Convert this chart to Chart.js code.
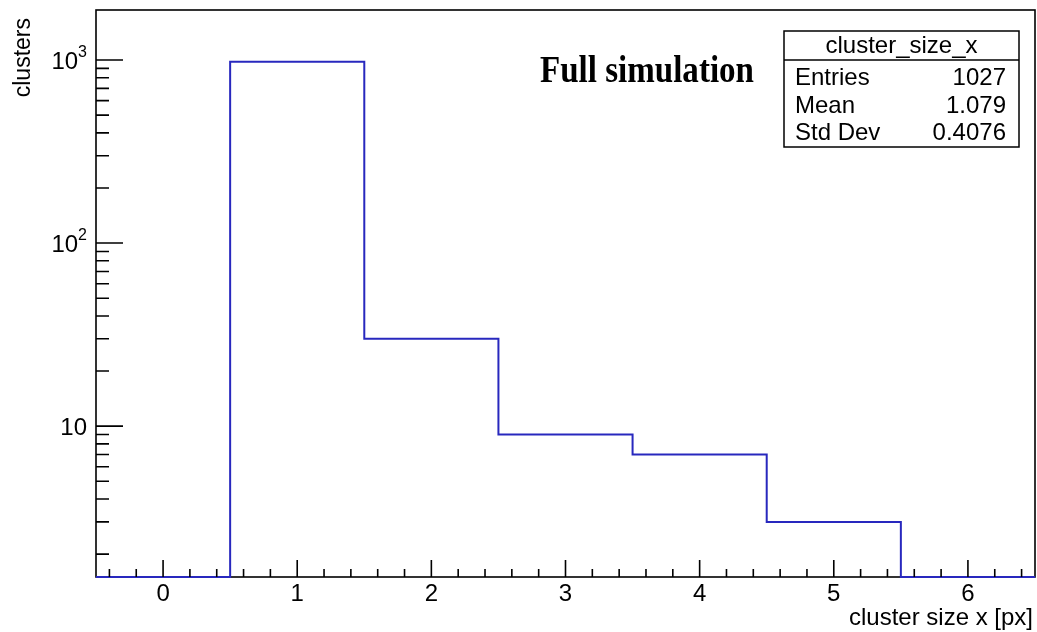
<!DOCTYPE html>
<html>
<head>
<meta charset="utf-8">
<script src="https://cdn.jsdelivr.net/npm/chart.js@4.4.1/dist/chart.umd.min.js"></script>
<style>
  html, body { margin: 0; padding: 0; background: #fff; }
  canvas { display: block; }
</style>
</head>
<body>
<canvas id="c" width="1037" height="632"></canvas>
<script>
// Histogram contents: one count per unit-wide bin
const binCenters = [0, 1, 2, 3, 4, 5, 6];
const counts = [0, 978, 30, 9, 7, 3, 0];

// Axis ticks and labels
const xTickValues = [0, 1, 2, 3, 4, 5, 6];
const yTickValues = [10, 100, 1000];
const yTickBase = ['10', '10', '10'];
const yTickExp = ['', '2', '3'];

const histName = 'cluster_size_x';
const xTitle = 'cluster size x [px]';
const yTitle = 'clusters';
const tagText = 'Full simulation';

const X_MIN = -0.5, X_MAX = 6.5;
const Y_MIN = 1.5, Y_MAX = 1875;
const BIN_WIDTH = 1;

// Step outline: each bin's low edge carries its count, closed at the last high edge.
// Empty bins sit on the bottom of the log axis.
const stepPoints = binCenters.map((c, i) => ({ x: c - BIN_WIDTH / 2, y: Math.max(counts[i], Y_MIN) }));
stepPoints.push({
  x: binCenters[binCenters.length - 1] + BIN_WIDTH / 2,
  y: Math.max(counts[counts.length - 1], Y_MIN)
});

// Statistics box values
const entries = counts.reduce((s, v) => s + v, 0);
const mean = counts.reduce((s, v, i) => s + v * binCenters[i], 0) / entries;
const meanSq = counts.reduce((s, v, i) => s + v * binCenters[i] * binCenters[i], 0) / entries;
const stdDev = Math.sqrt(meanSq - mean * mean);
const statsRows = [
  ['Entries', String(entries)],
  ['Mean', mean.toPrecision(4)],
  ['Std Dev', stdDev.toPrecision(4)]
];

const SANS = '"Liberation Sans", Arial, Helvetica, sans-serif';

const frameAndAxes = {
  id: 'frameAndAxes',
  beforeDatasetsDraw(chart) {
    const { ctx, chartArea: a } = chart;
    ctx.save();
    ctx.strokeStyle = '#000';
    ctx.lineWidth = 1.6;
    ctx.strokeRect(a.left, a.top, a.right - a.left, a.bottom - a.top);
    ctx.restore();
  },
  afterDatasetsDraw(chart) {
    const { ctx, chartArea: a, scales: { x, y } } = chart;
    ctx.save();
    ctx.strokeStyle = '#000';
    ctx.lineWidth = 1.6;
    ctx.beginPath();
    // x axis: major ticks at integers, minor every 0.2
    for (let k = Math.ceil(X_MIN * 5); k <= Math.floor(X_MAX * 5); k++) {
      const v = k / 5;
      const px = x.getPixelForValue(v);
      const len = (k % 5 === 0) ? 17 : 8;
      ctx.moveTo(px, a.bottom);
      ctx.lineTo(px, a.bottom - len);
    }
    // y axis: decades major, 2..9 minor
    for (let d = 1; d <= 1000; d *= 10) {
      for (let m = 1; m <= 9; m++) {
        const v = m * d;
        if (v < Y_MIN || v > Y_MAX) continue;
        const py = y.getPixelForValue(v);
        const len = (m === 1) ? 27 : 13;
        ctx.moveTo(a.left, py);
        ctx.lineTo(a.left + len, py);
      }
    }
    ctx.stroke();
    ctx.restore();
  },
  afterDraw(chart) {
    const { ctx, chartArea: a, scales: { x, y } } = chart;
    ctx.save();
    ctx.fillStyle = '#000';

    // x tick labels
    ctx.font = '24px ' + SANS;
    ctx.textAlign = 'center';
    ctx.textBaseline = 'alphabetic';
    xTickValues.forEach(v => {
      ctx.fillText(String(v), x.getPixelForValue(v), a.bottom + 24);
    });

    // y tick labels with exponents
    yTickValues.forEach((v, i) => {
      const py = y.getPixelForValue(v);
      const exp = yTickExp[i];
      ctx.font = '16px ' + SANS;
      const ew = exp ? ctx.measureText(exp).width : 0;
      const right = 87;
      if (exp) {
        ctx.textAlign = 'right';
        ctx.fillText(exp, right, py - 3);
      }
      ctx.font = '24px ' + SANS;
      ctx.textAlign = 'right';
      ctx.fillText(yTickBase[i], right - ew, py + 9);
    });

    // axis titles
    ctx.font = '24px ' + SANS;
    ctx.textAlign = 'right';
    ctx.fillText(xTitle, 1033, 625);
    ctx.save();
    ctx.font = '23px ' + SANS;
    ctx.translate(30, 18);
    ctx.rotate(-Math.PI / 2);
    ctx.textAlign = 'right';
    ctx.fillText(yTitle, 0, 0);
    ctx.restore();

    // label inside the frame
    ctx.font = 'bold 37px "Liberation Serif", "Times New Roman", serif';
    ctx.textAlign = 'left';
    const tw = ctx.measureText(tagText).width;
    ctx.save();
    ctx.translate(540, 82);
    ctx.scale(214 / tw, 1);
    ctx.fillText(tagText, 0, 0);
    ctx.restore();

    // statistics box
    const bx = 784, by = 31, bw = 235, bh = 116, hdr = 29;
    ctx.fillStyle = '#fff';
    ctx.fillRect(bx, by, bw, bh);
    ctx.strokeStyle = '#000';
    ctx.lineWidth = 1.5;
    ctx.strokeRect(bx, by, bw, bh);
    ctx.beginPath();
    ctx.moveTo(bx, by + hdr);
    ctx.lineTo(bx + bw, by + hdr);
    ctx.stroke();
    ctx.fillStyle = '#000';
    ctx.font = '24px ' + SANS;
    ctx.textAlign = 'center';
    ctx.fillText(histName, bx + bw / 2, by + 22);
    statsRows.forEach((row, i) => {
      const base = by + 54 + i * 27.5;
      ctx.textAlign = 'left';
      ctx.fillText(row[0], bx + 11, base);
      ctx.textAlign = 'right';
      ctx.fillText(row[1], bx + bw - 13, base);
    });
    ctx.restore();
  }
};

new Chart(document.getElementById('c'), {
  type: 'line',
  data: {
    datasets: [{
      data: stepPoints,
      stepped: 'before',
      borderColor: 'rgb(40, 40, 190)',
      borderWidth: 2,
      pointRadius: 0,
      fill: false,
      clip: 4
    }]
  },
  options: {
    responsive: false,
    animation: false,
    layout: { padding: { left: 96, top: 10, right: 2, bottom: 55 } },
    plugins: { legend: { display: false }, tooltip: { enabled: false } },
    scales: {
      x: { type: 'linear', min: X_MIN, max: X_MAX, display: false },
      y: { type: 'logarithmic', min: Y_MIN, max: Y_MAX, display: false }
    }
  },
  plugins: [frameAndAxes]
});
</script>
</body>
</html>
